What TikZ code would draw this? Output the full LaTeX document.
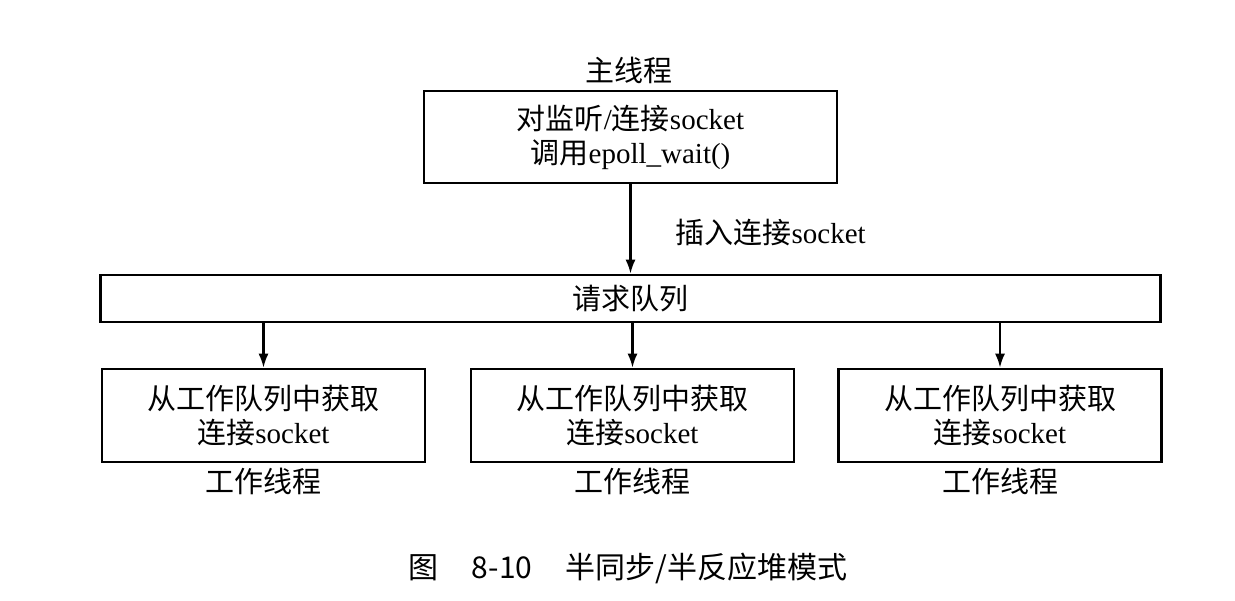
\documentclass[tikz,border=0pt]{standalone}
\usepackage{fontspec}
\setmainfont{Liberation Serif}
\newfontfamily\cjk{Noto Sans CJK SC}
\usetikzlibrary{arrows.meta, positioning}

\tikzset{
    box/.style={draw, line width=1.3pt, inner sep=0pt, align=center, font=\fontsize{14.5}{17}\selectfont},
    lbl/.style={inner sep=0pt, font=\fontsize{14.5}{17}\selectfont},
    arr/.style={line width=1.1pt, -{Latex[length=7pt, width=5pt]}}
}

\begin{document}
\begin{tikzpicture}[x=0.5pt, y=-0.5pt]
    \useasboundingbox (0,0) rectangle (1235,600);

    % Main thread
    \node[box, minimum width=206.5pt, minimum height=46pt] (main) at (630.5,137)
        {{\cjk 对监听}/{\cjk 连接}socket\\{\cjk 调用}epoll\_wait()};
    \node[lbl] (mainlbl) at (629,70) {\cjk 主线程};

    % Request queue
    \node[box, minimum width=530pt, minimum height=23.5pt] (queue) at (630.5,298.5) {\cjk 请求队列};

    % Worker threads
    \node[box, minimum width=161.5pt, minimum height=46.5pt] (w1) at (263.5,415.5)
        {{\cjk 从工作队列中获取}\\{\cjk 连接}socket};
    \node[box, minimum width=161.5pt, minimum height=46.5pt] (w2) at (632.5,415.5)
        {{\cjk 从工作队列中获取}\\{\cjk 连接}socket};
    \node[box, minimum width=161.5pt, minimum height=46.5pt] (w3) at (1000,415.5)
        {{\cjk 从工作队列中获取}\\{\cjk 连接}socket};

    \node[lbl] (w1lbl) at (263.5,481) {\cjk 工作线程};
    \node[lbl] (w2lbl) at (632.5,481) {\cjk 工作线程};
    \node[lbl] (w3lbl) at (1000,481) {\cjk 工作线程};

    % Arrows
    \draw[arr] (main) -- node[lbl, anchor=west, xshift=22pt, yshift=-2pt] {{\cjk 插入连接}socket} (queue);
    \draw[arr] (queue.south -| w1) -- (w1);
    \draw[arr] (queue.south -| w2) -- (w2);
    \draw[arr] (queue.south -| w3) -- (w3);

    % Caption
    \node[lbl, font=\fontsize{15}{18}\selectfont] (caption) at (628,568) {\cjk 图\hspace{1.1em}8-10\hspace{1.1em}半同步/半反应堆模式};
\end{tikzpicture}
\end{document}
